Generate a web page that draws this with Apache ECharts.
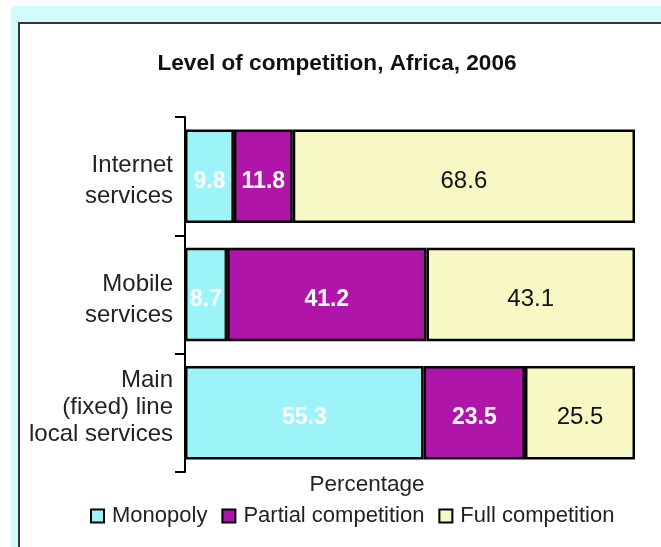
<!DOCTYPE html>
<html>
<head>
<meta charset="utf-8">
<script src="https://cdn.jsdelivr.net/npm/echarts@6/dist/echarts.min.js"></script>
<style>
html,body{margin:0;padding:0;background:#fff;}
#chart{width:661px;height:547px;}
</style>
</head>
<body>
<div id="chart"></div>
<script>
var categories = ['Internet\nservices', 'Mobile\nservices', 'Main\n(fixed) line\nlocal services'];
var seriesNames = ['Monopoly', 'Partial competition', 'Full competition'];
var monopoly = [9.8, 8.7, 55.3];
var partial = [11.8, 41.2, 23.5];
var full = [68.6, 43.1, 25.5];
var titleText = 'Level of competition, Africa, 2006';
var xAxisName = 'Percentage';

var raw = [monopoly, partial, full];
var totals = categories.map(function (c, i) { return monopoly[i] + partial[i] + full[i]; });
function shares(arr) { return arr.map(function (v, i) { return v / totals[i] * 100; }); }

var colors = ['#9cf4f8', '#b015aa', '#f8f8c4'];
var labelStyles = [
  {color: '#fff', fontWeight: 'bold', fontSize: 23},
  {color: '#fff', fontWeight: 'bold', fontSize: 23},
  {color: '#111', fontWeight: 'normal', fontSize: 24}
];

var FONT = 'Liberation Sans, Arial, sans-serif';

var chart = echarts.init(document.getElementById('chart'), null, {renderer: 'canvas'});

var series = raw.map(function (arr, si) {
  return {
    name: seriesNames[si],
    type: 'bar',
    stack: 'total',
    barWidth: '79%',
    data: shares(arr),
    itemStyle: {color: colors[si], borderColor: '#000', borderWidth: 2.5},
    label: {
      show: true,
      position: 'inside',
      offset: [0, 5],
      fontFamily: FONT,
      fontSize: labelStyles[si].fontSize,
      color: labelStyles[si].color,
      fontWeight: labelStyles[si].fontWeight,
      formatter: function (p) { return raw[si][p.dataIndex].toFixed(1); }
    },
    emphasis: {disabled: true}
  };
});

function catLabel(value) {
  var lines = value.split('\n');
  if (lines.length >= 3) {
    return lines.map(function (l) { return '{c|' + l + '}'; }).join('\n') + '\n{s| }';
  }
  return '{s| }\n' + lines.map(function (l) { return '{a|' + l + '}'; }).join('\n');
}

chart.setOption({
  animation: false,
  backgroundColor: '#fff',
  textStyle: {fontFamily: FONT},
  graphic: [
    {type: 'rect', silent: true, z: 0, shape: {x: 11, y: 6, width: 650, height: 16}, style: {fill: '#d2fbfd'}},
    {type: 'rect', silent: true, z: 0, shape: {x: 11, y: 6, width: 7, height: 541}, style: {fill: '#d2fbfd'}},
    {type: 'line', silent: true, z: 1, shape: {x1: 18, y1: 23, x2: 661, y2: 23}, style: {stroke: '#333', lineWidth: 2}},
    {type: 'line', silent: true, z: 1, shape: {x1: 19, y1: 22, x2: 19, y2: 547}, style: {stroke: '#333', lineWidth: 2}}
  ],
  title: {
    text: titleText,
    left: 332,
    textAlign: 'center',
    top: 47,
    textStyle: {fontFamily: FONT, fontSize: 22.6, fontWeight: 'bold', color: '#111'}
  },
  legend: {
    data: seriesNames,
    left: 90,
    top: 505,
    padding: 0,
    itemWidth: 13,
    itemHeight: 13,
    itemGap: 14,
    icon: 'rect',
    itemStyle: {borderColor: '#000', borderWidth: 2},
    textStyle: {fontFamily: FONT, fontSize: 22, color: '#222', padding: [0, 0, 0, 3]}
  },
  grid: {left: 185, right: 26, top: 117, bottom: 75},
  xAxis: {
    type: 'value',
    min: 0,
    max: 100,
    axisLine: {show: false},
    axisTick: {show: false},
    axisLabel: {show: false},
    splitLine: {show: false},
    name: xAxisName,
    nameLocation: 'middle',
    nameGap: 1,
    nameTextStyle: {fontFamily: FONT, fontSize: 22.5, color: '#222', padding: [0, 86, 0, 0], verticalAlign: 'top'}
  },
  yAxis: {
    type: 'category',
    inverse: true,
    data: categories,
    axisLine: {show: true, lineStyle: {color: '#000', width: 2}},
    axisTick: {show: true, length: 10, lineStyle: {color: '#000', width: 2}},
    axisLabel: {
      fontFamily: FONT, fontSize: 24, color: '#222', margin: 12, align: 'right',
      formatter: catLabel,
      rich: {
        a: {fontFamily: FONT, fontSize: 24, color: '#222', lineHeight: 31, align: 'right'},
        c: {fontFamily: FONT, fontSize: 24, color: '#222', lineHeight: 27, align: 'right'},
        s: {fontFamily: FONT, fontSize: 2, lineHeight: 10, align: 'right'}
      }
    },
    splitLine: {show: false}
  },
  series: series
});
</script>
</body>
</html>
